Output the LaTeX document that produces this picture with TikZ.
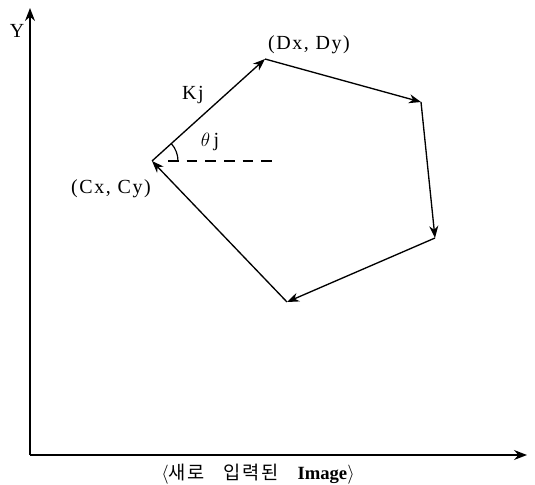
\documentclass[tikz,border=0pt]{standalone}
\usepackage{fontspec}
\setmainfont{Liberation Serif}
\newfontfamily\korfont{Noto Sans CJK KR}
\usepackage{tikz}
\usetikzlibrary{positioning, arrows.meta, calc}
\definecolor{ink}{HTML}{000000}
\tikzset{
  axis/.style   = {-{Stealth[length=3.4mm,width=2.6mm]}, line width=1.3pt, draw=ink},
  edge/.style   = {-{Stealth[length=3.2mm,width=2.4mm]}, line width=1pt, draw=ink},
  guide/.style  = {dashed, dash pattern=on 8pt off 6pt, line width=0.9pt, draw=ink},
  lbl/.style    = {font=\fontsize{15}{17}\selectfont\addfontfeature{LetterSpace=8}, inner sep=1pt, text=ink},
}

\begin{document}
\begin{tikzpicture}[x=0.75pt, y=-0.75pt]
  \useasboundingbox (0,0) rectangle (535,485);

  % axes
  \coordinate (orig) at (30,455);
  \coordinate (ytop) at (30,8);
  \coordinate (xend) at (527,455);
  \draw[axis] (orig) -- (ytop);
  \draw[axis] (orig) -- (xend);
  \node[lbl] (ylab) at (17,31) {Y};

  % polygon corners
  \coordinate (C) at (152,161);
  \coordinate (D) at (265,59);
  \coordinate (E) at (421,102);
  \coordinate (F) at (435,238);
  \coordinate (G) at (287,302);
  \coordinate (href) at (277,161);

  \draw[edge] (C) -- (D);
  \draw[edge] (D) -- (E);
  \draw[edge] (E) -- (F);
  \draw[edge] (F) -- (G);
  \draw[edge] (G) -- (C);

  % direction reference and angle
  \draw[guide] ($(C)+(16,0)$) -- (href);
  \draw[line width=0.9pt] ($(C)+(26,0)$) arc[start angle=0, end angle=-42, radius=26];

  \node[lbl] (dlab) at (309,45) {(Dx, Dy)};
  \node[lbl] (clab) at (111,189) {(Cx, Cy)};
  \node[lbl] (klab) at (193,95) {Kj};
  \node[lbl] (tlab) at (210,142) {$\theta$\,j};

  \node[font=\fontsize{14}{16}\selectfont] (cap) at (258,474)
       {$\langle$\korfont\addfontfeature{LetterSpace=10}새로\quad 입력된\quad\rmfamily\bfseries Image$\rangle$};
\end{tikzpicture}
\end{document}
